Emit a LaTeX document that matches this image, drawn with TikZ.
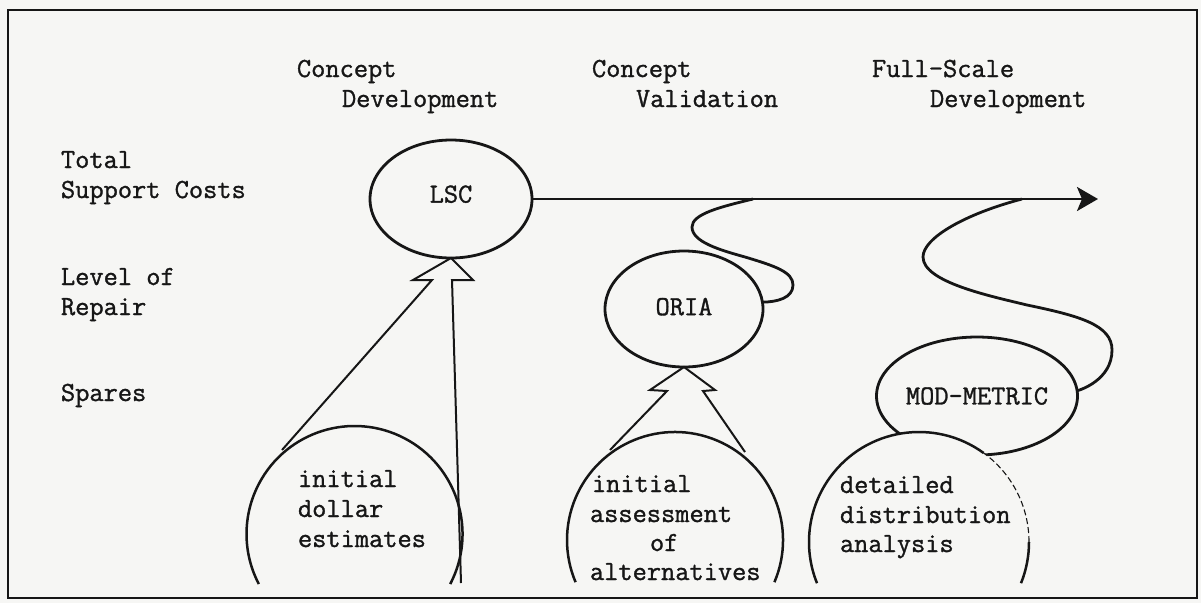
\documentclass[tikz,border=0pt]{standalone}
\usepackage{fontspec}
\usetikzlibrary{shapes.geometric,arrows.meta}
\definecolor{paper}{RGB}{246,246,244}
\definecolor{ink}{RGB}{22,22,22}
\newfontfamily\twfont[FakeBold=1.2]{Latin Modern Mono}
\newcommand\typew{\twfont\fontsize{27.6}{30}\selectfont}
\begin{document}
\begin{tikzpicture}[x=1pt,y=-1pt,
  tw/.style={font=\typew, inner sep=0pt, outer sep=0pt, anchor=base west, text=ink},
  ell/.style={ellipse, draw=ink, line width=2.8pt, inner sep=0pt, outer sep=0pt, font=\typew, text=ink},
  ring/.style={circle, draw=none, inner sep=0pt, outer sep=0pt},
  arcline/.style={draw=ink, line width=2.5pt},
  openarrow/.style={draw=ink, line width=2pt, line join=miter},
  flow/.style={draw=ink, line width=2.8pt},
]
\useasboundingbox (0,0) rectangle (1201,603);
\fill[paper] (0,0) rectangle (1201,603);

% column headings
\node[tw] (h1a) at (297,77) {Concept};
\node[tw] (h1b) at (342,107) {Development};
\node[tw] (h2a) at (592,77) {Concept};
\node[tw] (h2b) at (636,107) {Validation};
\node[tw] (h3a) at (872,77) {Full-Scale};
\node[tw] (h3b) at (930,107) {Development};

% row labels
\node[tw] (r1a) at (61,168) {Total};
\node[tw] (r1b) at (61,198) {Support Costs};
\node[tw] (r2a) at (61,285) {Level of};
\node[tw] (r2b) at (61,315) {Repair};
\node[tw] (r3) at (61,401) {Spares};

% ellipses
\node[ell, minimum width=162pt, minimum height=118pt] (LSC) at (451,199) {\raisebox{10pt}{LSC}};
\node[ell, minimum width=158pt, minimum height=116pt] (ORIA) at (684,309) {\raisebox{5pt}{ORIA}};
\node[ell, minimum width=161pt, minimum height=118pt] (MOD) at (977,396) {MOD-METRIC};

% bottom circles (open arcs)
\node[ring, minimum size=216pt] (R1) at (354,535) {};
\node[ring, minimum size=216pt] (R2) at (675,540) {};
\node[ring, minimum size=220pt] (R3) at (919,542) {};

\begin{scope}
  \clip (8,10) rectangle (1197,598);
  \fill[paper] (R3.center) circle[radius=110pt];
\end{scope}

\draw[arcline] (R1.-27.6) arc[start angle=-27.6, end angle=207.6, radius=108pt];
\draw[arcline] (R2.-23) arc[start angle=-23, end angle=203, radius=108pt];
\draw[arcline] (R3.-22) arc[start angle=-22, end angle=0, radius=110pt];
\draw[ink, line width=1.1pt, dash pattern=on 6pt off 3pt] (R3.0) arc[start angle=0, end angle=54, radius=110pt];
\draw[arcline] (R3.54) arc[start angle=54, end angle=202, radius=110pt];

% texts in the circles
\node[tw] (c1a) at (298,487) {initial};
\node[tw] (c1b) at (298,517) {dollar};
\node[tw] (c1c) at (298,547) {estimates};
\node[tw] (c2a) at (592,492) {initial};
\node[tw] (c2b) at (590,522) {assessment};
\node[tw] (c2c) at (650,551) {of};
\node[tw] (c2d) at (590,580) {alternatives};
\node[tw] (c3a) at (840,493) {detailed};
\node[tw] (c3b) at (840,523) {distribution};
\node[tw] (c3c) at (840,552) {analysis};

% wide open arrows
\draw[openarrow] (282,450) -- (432,280) -- (413,280) -- (LSC.south) -- (473,280) -- (452,280) -- (461,583);
\draw[openarrow] (610,450) -- (667,391) -- (650,390) -- (ORIA.south) -- (715,390) -- (703,391) -- (745,452);

% main flow
\coordinate (endpt) at (1098,199);
\coordinate (j1) at (753,199);
\coordinate (j2) at (1022,199);
\draw[flow, -{Stealth[length=21pt, width=24pt, inset=5pt]}] (LSC.east) -- (endpt);
\draw[flow] (j1) .. controls (720,207) and (692,214) .. (692,227)
  .. controls (692,242) and (720,250) .. (745,257)
  .. controls (775,266) and (793,272) .. (793,285)
  .. controls (793,298) and (777,302) .. (ORIA.5);
\draw[flow] (j2) .. controls (965,214) and (923,238) .. (923,257)
  .. controls (923,282) and (990,296) .. (1027,305)
  .. controls (1080,316) and (1112,325) .. (1112,350)
  .. controls (1112,380) and (1080,390) .. (MOD.3);

% frame
\draw[ink, line width=2.6pt] (8,10) rectangle (1197,598);
\end{tikzpicture}
\end{document}
